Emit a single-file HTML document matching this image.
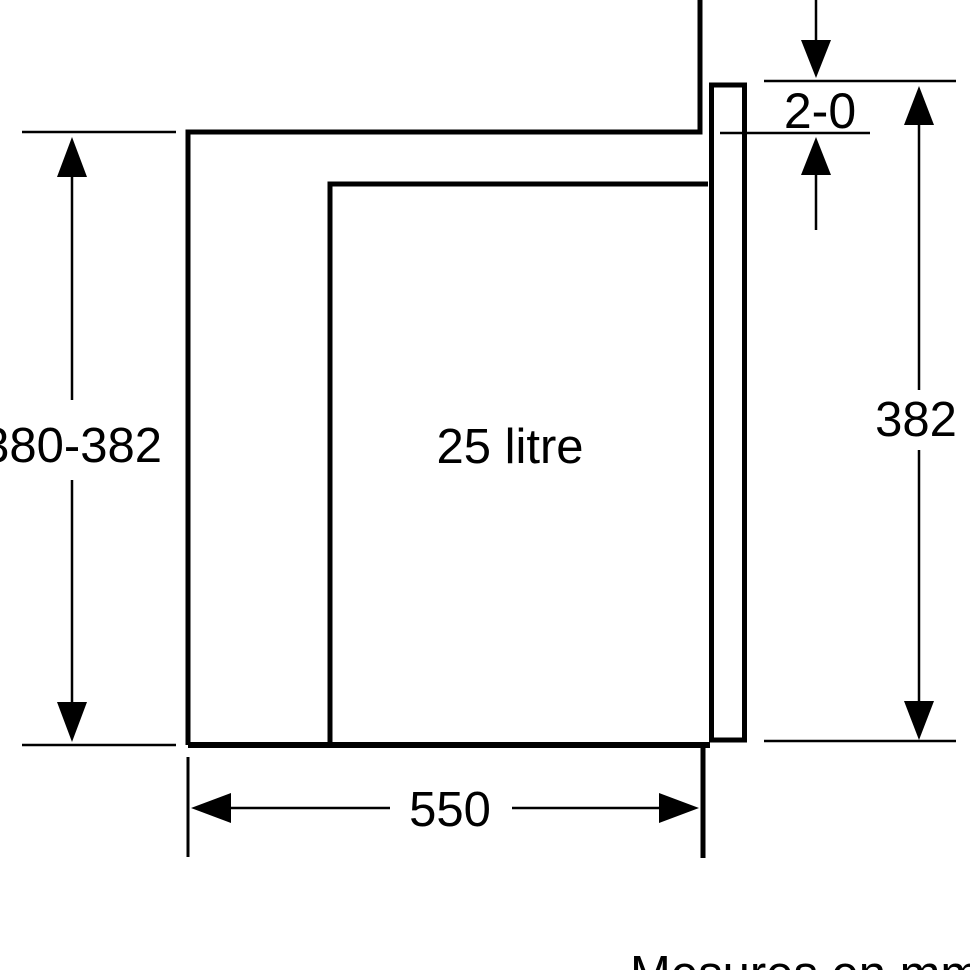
<!DOCTYPE html>
<html><head><style>html,body{margin:0;padding:0;background:#fff;overflow:hidden}</style></head>
<body>
<svg width="970" height="970" viewBox="0 0 970 970" xmlns="http://www.w3.org/2000/svg">
<g fill="none" stroke="#000">
<path d="M188 745 V132 H700 V0" stroke-width="5"/>
<path d="M188 745 H710" stroke-width="6"/>
<path d="M330 745 V184 H708" stroke-width="5"/>
<rect x="711.5" y="85" width="33" height="655" stroke-width="5"/>
<g stroke-width="2.5">
<line x1="22" y1="132" x2="176" y2="132"/>
<line x1="22" y1="745" x2="176" y2="745"/>
<line x1="72" y1="170" x2="72" y2="400"/>
<line x1="72" y1="480" x2="72" y2="710"/>
<line x1="764" y1="81" x2="956" y2="81"/>
<line x1="720" y1="133" x2="870" y2="133"/>
<line x1="764" y1="741" x2="956" y2="741"/>
<line x1="816" y1="0" x2="816" y2="50"/>
<line x1="816" y1="165" x2="816" y2="230"/>
<line x1="919" y1="120" x2="919" y2="390"/>
<line x1="919" y1="450" x2="919" y2="705"/>
<line x1="220" y1="808" x2="390" y2="808"/>
<line x1="512" y1="808" x2="670" y2="808"/>
</g>
<line x1="188" y1="757" x2="188" y2="857" stroke-width="3"/>
<line x1="703" y1="745" x2="703" y2="858" stroke-width="5"/>
</g>
<g fill="#000">
<polygon points="72,137 57,177 87,177"/>
<polygon points="72,742 57,702 87,702"/>
<polygon points="816,78 801,40 831,40"/>
<polygon points="816,137 801,175 831,175"/>
<polygon points="919,86 904,125 934,125"/>
<polygon points="919,740 904,701 934,701"/>
<polygon points="191,808 231,793 231,823"/>
<polygon points="699,808 659,793 659,823"/>
</g>
<g font-family="Liberation Sans, sans-serif" font-size="49" fill="#000">
<text x="162" y="462" text-anchor="end">380-382</text>
<text x="510" y="463" text-anchor="middle">25 litre</text>
<text x="916" y="436" text-anchor="middle">382</text>
<text x="820" y="128" text-anchor="middle" font-size="50">2-0</text>
<text x="450" y="826" text-anchor="middle">550</text>
<text x="630" y="990">Mesures en mm</text>
</g>
</svg>
</body></html>
